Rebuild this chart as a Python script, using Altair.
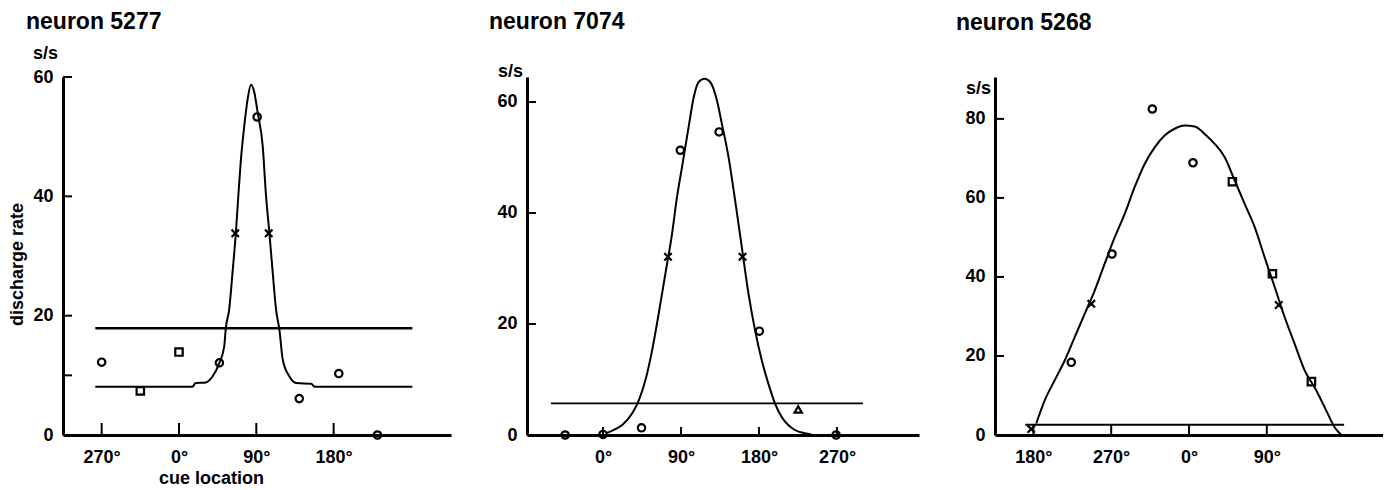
import altair as alt
import pandas as pd

FONT = "Liberation Sans"

# ---------------- data ----------------
titles = ["neuron 5277", "neuron 7074", "neuron 5268"]

# panel 1 (neuron 5277)
p1_curve_x = [-97.4, 15.6, 19.5, 31.2, 39.0, 46.8, 52.6, 54.5, 58.4, 62.3, 66.2, 69.3, 72.1, 76.0,
              79.9, 83.8, 87.7, 91.6, 97.4, 101.3, 105.2, 109.1, 113.0, 116.9, 120.8, 128.6, 136.4,
              153.9, 157.8, 271.6]
p1_curve_y = [8.1, 8.1, 8.7, 8.8, 9.8, 12.0, 14.8, 17.9, 21.0, 27.2, 33.9, 40.6, 46.2, 51.8,
              56.3, 58.7, 57.4, 54.0, 48.5, 40.1, 33.9, 27.2, 21.0, 17.6, 12.6, 9.8, 8.7,
              8.6, 8.1, 8.1]
p1_pts_x = [-90, -45, 0, 47, 65.5, 91, 104.5, 140, 186, 231]
p1_pts_y = [12.2, 7.4, 13.9, 12.1, 33.8, 53.3, 33.8, 6.1, 10.3, 0.0]
p1_pts_s = ["circle", "square", "square", "circle", "cross", "circle", "cross", "circle", "circle", "circle"]
p1_hline = [-97.4, 271.6, 17.9]
p1_xticks = [-90, 0, 90, 180]
p1_xlabels = ["270°", "0°", "90°", "180°"]
p1_ylabels = [0, 20, 40, 60]
p1_yticks = [10, 20, 40, 60]

# panel 2 (neuron 7074)
p2_curve_x = [3.1, 10.7, 22.2, 33.7, 41.4, 49.0, 56.7, 64.3, 72.0, 79.7, 85.4, 91.2, 98.8, 104.6,
              110.3, 117.2, 123.7, 131.4, 137.1, 144.8, 152.4, 160.1, 167.8, 175.4, 183.1, 190.7,
              198.4, 206.0, 213.7, 221.4, 232.9, 240.5]
p2_curve_y = [0.3, 0.8, 1.8, 3.9, 6.3, 9.9, 15.3, 21.9, 29.1, 36.3, 42.9, 48.3, 55.5, 60.8,
              63.6, 64.2, 63.6, 60.3, 56.1, 50.1, 42.3, 33.9, 25.5, 18.9, 13.5, 9.3,
              5.7, 3.3, 1.8, 0.9, 0.3, 0.1]
p2_pts_x = [-43.7, 0.0, 44.4, 75.0, 89.2, 134.0, 161.0, 180.4, 225.2, 269.0]
p2_pts_y = [0.0, 0.1, 1.3, 32.1, 51.3, 54.6, 32.1, 18.7, 4.6, 0.0]
p2_pts_s = ["circle", "circle", "circle", "cross", "circle", "circle", "cross", "circle", "triangle", "circle"]
p2_hline = [-60.1, 299.9, 5.7]
p2_xticks = [0, 90, 180, 270]
p2_xlabels = ["0°", "90°", "180°", "270°"]
p2_ylabels = [0, 20, 40, 60]
p2_yticks = [20, 40, 60]

# panel 3 (neuron 5268)
p3_curve_x = [-176.7, -167.0, -155.5, -143.9, -132.3, -120.8, -109.2, -97.6, -86.0, -74.5, -62.9,
              -51.3, -39.7, -28.2, -16.6, -5.0, 6.6, 18.1, 29.7, 41.3, 52.9, 64.4, 76.0, 87.6,
              99.2, 110.7, 122.3, 133.9, 145.4, 157.0, 168.6, 176.3]
p3_curve_y = [2.9, 8.7, 13.8, 18.8, 24.7, 30.6, 36.5, 43.3, 50.0, 55.9, 62.7,
              68.6, 72.8, 75.8, 77.5, 78.3, 78.1, 76.2, 73.7, 70.3, 64.4, 58.5, 52.6, 44.9,
              37.4, 29.8, 23.0, 16.3, 12.0, 7.0, 1.9, 0.0]
p3_pts_x = [-182.5, -136.2, -113.0, -89.1, -42.4, 4.6, 50.2, 96.5, 103.8, 141.6]
p3_pts_y = [1.5, 18.4, 33.2, 45.8, 82.5, 68.9, 64.1, 40.8, 32.9, 13.5]
p3_pts_s = ["cross", "circle", "cross", "circle", "circle", "circle", "square", "square", "cross", "square"]
p3_hline = [-189.4, 179.4, 2.6]
p3_xticks = [-180, -90, 0, 90]
p3_xlabels = ["180°", "270°", "0°", "90°"]
p3_ylabels = [0, 20, 40, 60, 80]
p3_yticks = [20, 40, 60, 80]

shape_domain = ["circle", "square", "cross", "triangle"]
shape_range = ["circle", "square", "M-1,-1L1,1M-1,1L1,-1", "triangle-up"]


def label_expr(values, labels):
    expr = "''"
    for v, l in reversed(list(zip(values, labels))):
        expr = f"datum.value == {v} ? '{l}' : ({expr})"
    return expr


def panel(curve_x, curve_y, pts_x, pts_y, pts_s, hline, xticks, xlabels, ylabels, yticks,
          title, xdom, ydom, W, H, title_dx, title_offset, ss_x, ss_y, xtick_len,
          hl_width=2.0, xtitle=None, ytitle2=None):
    xs = alt.Scale(domain=xdom, nice=False, zero=False)
    ys = alt.Scale(domain=ydom, nice=False, zero=False)

    x_axis_kw = dict(values=xticks, labelExpr=label_expr(xticks, xlabels), labelPadding=13,
                     grid=False, ticks=False, tickSize=0)
    if xtitle:
        x_axis_kw.update(title=xtitle, titleX=148, titleY=48, titleAlign="center",
                         titleBaseline="alphabetic")
    else:
        x_axis_kw.update(title=None)

    def yenc(field):
        # in panel 1 the y axes are independent, so the extra layers must hide theirs
        if ytitle2:
            return alt.Y(field, scale=ys, axis=None)
        return alt.Y(field, scale=ys)

    curve = alt.Chart(pd.DataFrame({"x": curve_x, "y": curve_y})).mark_line(
        color="black", strokeWidth=2, interpolate="monotone"
    ).encode(
        x=alt.X("x:Q", scale=xs, axis=alt.Axis(**x_axis_kw)),
        y=alt.Y("y:Q", scale=ys, axis=alt.Axis(
            values=ylabels, title="s/s", titleAngle=0, titleX=ss_x, titleY=ss_y,
            titleAlign="center", titleBaseline="alphabetic", labelPadding=10,
            grid=False, ticks=False, tickSize=0, orient="left")),
    )

    hl = alt.Chart(pd.DataFrame({"x1": [hline[0]], "x2": [hline[1]], "y": [hline[2]]})).mark_rule(
        color="black", strokeWidth=hl_width
    ).encode(
        x=alt.X("x1:Q", scale=xs),
        x2="x2:Q",
        y=yenc("y:Q"),
    )

    pts = alt.Chart(pd.DataFrame({"x": pts_x, "y": pts_y, "s": pts_s})).mark_point(
        filled=False, color="black", strokeWidth=2.2, size=55, opacity=1
    ).encode(
        x=alt.X("x:Q", scale=xs),
        y=yenc("y:Q"),
        shape=alt.Shape("s:N", scale=alt.Scale(domain=shape_domain, range=shape_range), legend=None),
    )

    if ytitle2:
        yt_y = alt.Y("y:Q", scale=ys, axis=alt.Axis(
            title=ytitle2, orient="left", labels=False, ticks=False, domain=False,
            grid=False, titleAngle=270, titleX=-41, titleY=187,
            titleAlign="center", titleBaseline="alphabetic"))
    else:
        yt_y = alt.Y("y:Q", scale=ys)
    ytk = alt.Chart(pd.DataFrame({"y": yticks})).mark_rule(color="black", strokeWidth=2).encode(
        y=yt_y,
        x=alt.value(0),
        x2=alt.value(9),
    )

    xtk = alt.Chart(pd.DataFrame({"x": xticks})).mark_rule(color="black", strokeWidth=2).encode(
        x=alt.X("x:Q", scale=xs),
        y=alt.value(H),
        y2=alt.value(H - xtick_len),
    )

    ch = alt.layer(curve, hl, xtk, ytk, pts).properties(
        width=W, height=H,
        title=alt.TitleParams(text=title, anchor="start", frame="group", dx=title_dx,
                              offset=title_offset, font=FONT, fontSize=23, fontWeight="bold",
                              color="black", baseline="alphabetic"),
    )
    if ytitle2:
        ch = ch.resolve_axis(y="independent")
    return ch


H = 358
c1 = panel(p1_curve_x, p1_curve_y, p1_pts_x, p1_pts_y, p1_pts_s, p1_hline, p1_xticks, p1_xlabels,
           p1_ylabels, p1_yticks, titles[0], [-135.0, 316.6], [0, 60], 388, H,
           title_dx=-37, title_offset=-8, ss_x=-18, ss_y=-19, xtick_len=12, hl_width=2.5,
           xtitle="cue location", ytitle2="discharge rate")
c2 = panel(p2_curve_x, p2_curve_y, p2_pts_x, p2_pts_y, p2_pts_s, p2_hline, p2_xticks, p2_xlabels,
           p2_ylabels, p2_yticks, titles[1], [-87.7, 364.6], [0, 64.5], 392, H,
           title_dx=-38, title_offset=10, ss_x=-17, ss_y=-1, xtick_len=8, hl_width=1.6)
c3 = panel(p3_curve_x, p3_curve_y, p3_pts_x, p3_pts_y, p3_pts_s, p3_hline, p3_xticks, p3_xlabels,
           p3_ylabels, p3_yticks, titles[2], [-224.4, 224.4], [0, 90.6], 388, H,
           title_dx=-39, title_offset=24, ss_x=-17, ss_y=16, xtick_len=10, hl_width=2.0)

chart = alt.hconcat(c1, c2, c3, spacing=76, bounds="flush").properties(
    padding={"left": 8, "top": 11, "right": 0, "bottom": 0},
    background="white",
).configure_view(strokeWidth=0).configure_axis(
    domainColor="black", domainWidth=3,
    labelColor="black", labelFont=FONT, labelFontSize=18, labelFontWeight="bold",
    titleColor="black", titleFont=FONT, titleFontSize=18, titleFontWeight="bold",
    labelFlush=False, labelOverlap=False,
)

chart.save("out.html", embed_options={"renderer": "svg", "actions": False})
